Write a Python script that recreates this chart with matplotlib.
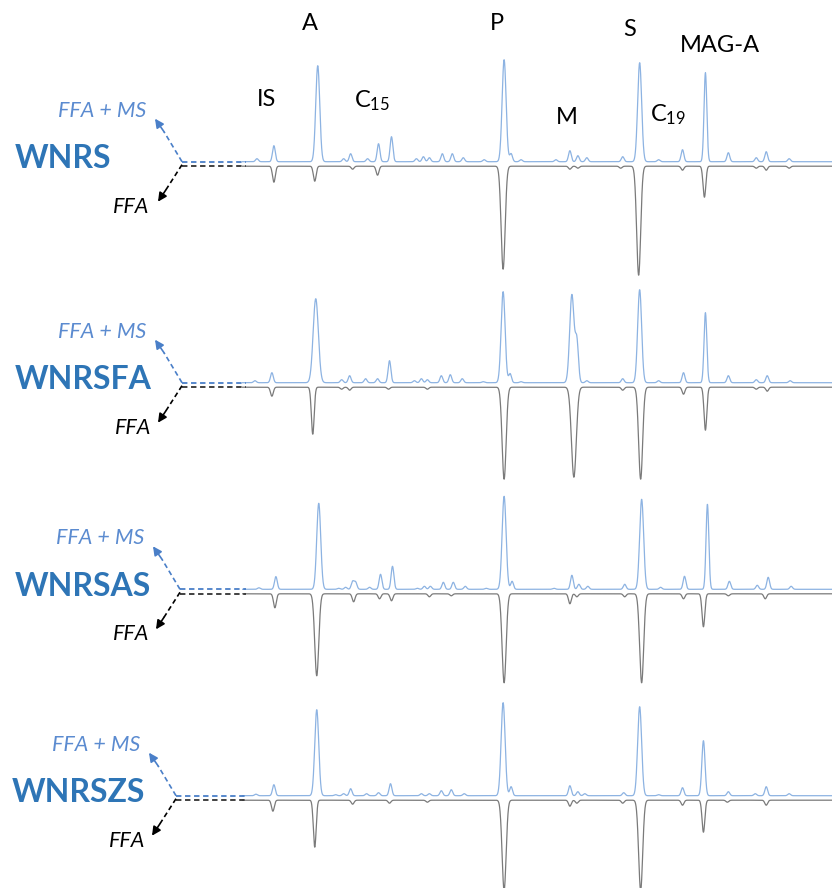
import numpy as np
import matplotlib
matplotlib.use("Agg")
import matplotlib.pyplot as plt

plt.rcParams['font.family'] = ['Lato', 'DejaVu Sans']
plt.rcParams['mathtext.fontset'] = 'custom'
plt.rcParams['mathtext.rm'] = 'Lato'
plt.rcParams['mathtext.it'] = 'Lato:italic'

# samples and retention window (min)
samples = ["WNRS", "WNRSFA", "WNRSAS", "WNRSZS"]
rt_start, rt_end = 0.0, 29.6

# peak tables: (retention time, relative intensity[, width])
# upper trace = FFA + MS, lower trace = FFA
wnrs_ms = [(0.75, 3), (1.60, 16), (3.80, 96), (5.10, 3), (5.45, 8), (6.30, 3), (6.85, 18),
           (7.50, 25), (8.75, 3), (9.10, 5), (9.40, 4), (10.05, 8), (10.55, 8), (11.10, 4),
           (12.15, 2), (13.15, 102), (13.50, 8), (14.00, 2), (15.75, 2), (16.45, 11),
           (16.85, 6), (17.30, 4), (19.10, 5), (19.95, 99), (20.90, 2), (22.10, 12),
           (23.25, 89, 0.07), (24.40, 9), (25.80, 4), (26.30, 10), (27.45, 3)]
wnrs_ffa = [(1.60, 16), (3.65, 15), (5.55, 3), (6.80, 9), (13.10, 103), (16.45, 3),
            (16.85, 2), (19.00, 2), (19.90, 109), (22.10, 4), (23.20, 31), (25.80, 2),
            (26.30, 4), (27.45, 2)]

wnrsfa_ms = [(0.65, 2), (1.50, 10), (3.70, 84, 0.13), (5.00, 3), (5.40, 7), (6.20, 4),
             (6.80, 4), (7.40, 22), (8.65, 2), (9.00, 4), (9.30, 3), (10.00, 7), (10.45, 8),
             (11.05, 4), (12.10, 1), (13.10, 91), (13.45, 9), (14.00, 1), (16.55, 88, 0.11),
             (16.80, 40, 0.08), (17.30, 2), (19.10, 4), (19.95, 93), (20.90, 2), (22.15, 10),
             (23.25, 70, 0.07), (24.40, 7), (25.80, 3), (26.35, 7), (27.50, 2)]
wnrsfa_ffa = [(1.50, 9), (3.55, 47), (5.00, 2), (5.40, 3), (7.35, 2), (9.30, 2),
              (13.15, 92), (16.65, 90, 0.12), (19.10, 3), (20.00, 92), (22.15, 7),
              (23.25, 43), (25.80, 2), (26.35, 4)]

wnrsas_ms = [(0.85, 1.5), (1.70, 12.7), (3.85, 86), (4.85, 1), (5.20, 2), (5.55, 7.7),
             (5.70, 7), (6.40, 2), (6.95, 15), (7.55, 23), (8.80, 1), (9.15, 3), (9.45, 3),
             (10.10, 7), (10.60, 7), (11.20, 3), (12.25, 1), (13.15, 93), (13.55, 8),
             (15.65, 1), (16.55, 14), (16.90, 5), (17.35, 3), (19.20, 5), (20.05, 90),
             (21.00, 2), (22.20, 13), (23.35, 85, 0.07), (24.45, 8), (25.85, 4), (26.40, 12),
             (27.55, 3)]
wnrsas_ffa = [(1.65, 14), (3.75, 82), (5.60, 8), (6.90, 5), (7.50, 7), (9.40, 3),
              (10.50, 2), (13.15, 89), (16.45, 10), (16.80, 3), (19.20, 3), (20.05, 89),
              (22.15, 5), (23.15, 33), (24.40, 2), (26.25, 5)]

wnrszs_ms = [(0.70, 1.5), (1.60, 11), (3.75, 86), (4.70, 1), (5.10, 2), (5.45, 7),
             (6.25, 2), (6.85, 3), (7.45, 12), (9.00, 2), (9.40, 2), (10.00, 5), (10.50, 6),
             (11.15, 2), (13.10, 93), (13.50, 9), (16.45, 10), (16.85, 4), (17.20, 2),
             (19.15, 3), (19.95, 89), (20.90, 1), (22.10, 8), (23.15, 55, 0.08), (24.40, 4),
             (25.75, 2), (26.30, 9), (27.45, 2)]
wnrszs_ffa = [(1.55, 11), (3.65, 47), (5.55, 4), (7.40, 3), (9.30, 2), (13.15, 90),
              (16.45, 6), (16.80, 3), (19.10, 3), (20.00, 90), (22.10, 5), (23.15, 32),
              (24.35, 2), (26.30, 5)]

upper_traces = [wnrs_ms, wnrsfa_ms, wnrsas_ms, wnrszs_ms]
lower_traces = [wnrs_ffa, wnrsfa_ffa, wnrsas_ffa, wnrszs_ffa]

# compound names written over the first panel
compounds = ["A", "P", "S", "MAG-A", "IS", "C$_{15}$", "M", "C$_{19}$"]


def trace(rt, peaks):
    y = np.zeros_like(rt)
    for p in peaks:
        t, h = p[0], p[1]
        if len(p) > 2:
            w = p[2]
        else:
            w = 0.10 if h > 60 else 0.07
        y += h * np.exp(-0.5 * ((rt - t) / w) ** 2)
    return y


W, H = 832, 888
fig = plt.figure(figsize=(W / 100, H / 100), dpi=100)

blue_line = '#8db3e2'
grey_line = '#7a7a7a'
name_blue = '#2e75b6'
ms_blue = '#5b8bd0'
arrow_blue = '#4a7fc8'

baselines = [161.7, 382.7, 589.3, 795.7]   # figure px from top
lower_offset = 4.5
x0_px = 242
span = 130

rt = np.linspace(rt_start, rt_end, 4000)
for base, up, down in zip(baselines, upper_traces, lower_traces):
    ax = fig.add_axes([x0_px / W, (H - base - span) / H, (W - x0_px) / W, 2 * span / H])
    ax.plot(rt, trace(rt, up), color=blue_line, lw=0.9)
    ax.plot(rt, -lower_offset - trace(rt, down), color=grey_line, lw=0.9)
    ax.set_xlim(rt_start, rt_end)
    ax.set_ylim(-span, span)
    ax.axis('off')
    ax.patch.set_alpha(0)

# overlay for labels and leader arrows
lay = fig.add_axes([0, 0, 1, 1], zorder=5)
lay.set_xlim(0, W)
lay.set_ylim(H, 0)
lay.axis('off')
lay.patch.set_alpha(0)

name_pos = [(310, 24), (497, 24), (630, 29), (720, 46), (267, 100), (372, 101), (567, 118), (668, 115)]
for (x, y), s in zip(name_pos, compounds):
    lay.text(x, y, s, fontsize=17, ha='center', va='center', color='black')

left_x = [15, 15, 15, 12]
ms_x = [102, 102, 100, 96]
ffa_x = [131, 133, 131, 127]
vertex_x = [182, 182, 180, 176]
for i, (base, name) in enumerate(zip(baselines, samples)):
    lay.text(left_x[i], base - 3, name, fontsize=23, fontweight='bold', color=name_blue,
             ha='left', va='center')
    lay.text(ms_x[i], base - 51, "FFA + MS", fontsize=15.5, style='italic', color=ms_blue,
             ha='center', va='center')
    lay.text(ffa_x[i], base + 45, "FFA", fontsize=15.5, style='italic', color='black',
             ha='center', va='center')
    vx = vertex_x[i]
    # dashed leaders to the traces
    lay.plot([vx, x0_px + 4], [base, base], color=arrow_blue, lw=1.3, ls=(0, (3, 2)))
    lay.plot([vx, x0_px + 4], [base + lower_offset, base + lower_offset], color='#333333',
             lw=1.3, ls=(0, (3, 2)))
    lay.plot([vx, vx - 18], [base, base - 30], color=arrow_blue, lw=1.2, ls=(0, (3, 2)))
    lay.plot([vx, vx - 16], [base + 3, base + 28], color='black', lw=1.2, ls=(0, (3, 2)))
    lay.annotate('', xy=(vx - 27, base - 43), xytext=(vx - 18, base - 30),
                 arrowprops=dict(arrowstyle='-|>', color=arrow_blue, lw=1.2, mutation_scale=13,
                                 shrinkA=0, shrinkB=0))
    lay.annotate('', xy=(vx - 24, base + 40), xytext=(vx - 16, base + 28),
                 arrowprops=dict(arrowstyle='-|>', color='black', lw=1.2, mutation_scale=13,
                                 shrinkA=0, shrinkB=0))

fig.savefig("out.png", dpi=100)
